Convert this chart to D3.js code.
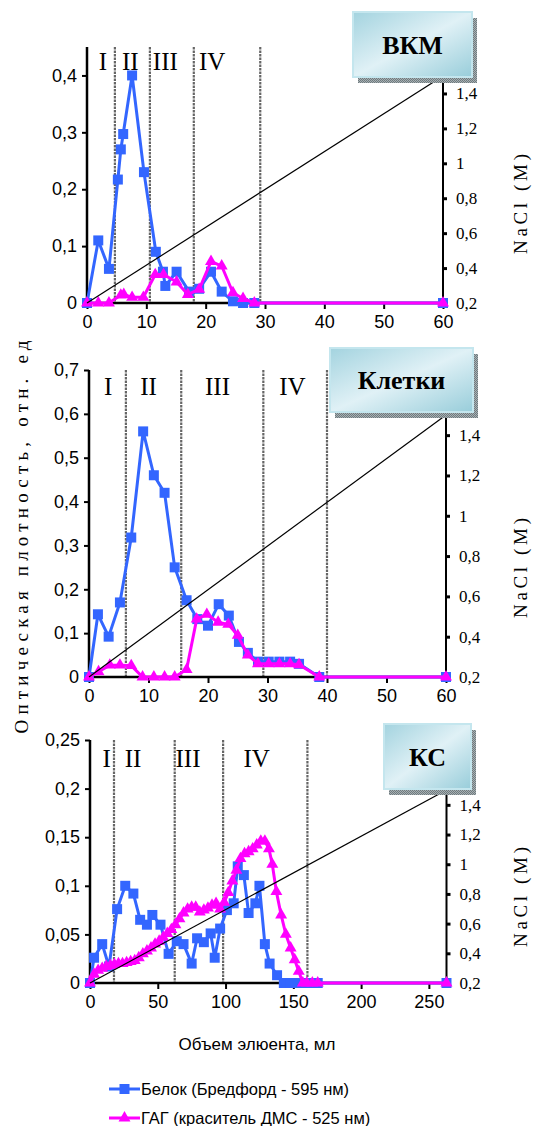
<!DOCTYPE html>
<html><head><meta charset="utf-8">
<script src="https://cdn.jsdelivr.net/npm/d3@7"></script>
<style>body{margin:0;background:#fff}svg{display:block}</style>
</head><body><svg id="c" width="533" height="1126"></svg>
<script>
// ---------- DATA ----------
const vkmProtein = [[0,0],[1.9,0.11],[3.7,0.06],[5.2,0.217],[5.7,0.27],[6.1,0.297],[7.6,0.4],[9.6,0.23],[11.6,0.09],[12.8,0.055],[13.2,0.03],[15.1,0.055],[17.2,0.02],[18.9,0.025],[20.9,0.055],[22.7,0.02],[24.6,0.003],[26.3,0],[28.2,0],[60,0]];
const vkmGag = [[0,0],[1.9,0],[3.7,0],[5.7,0.014],[6.2,0.015],[7.6,0.01],[9.5,0.01],[11.5,0.05],[12.9,0.05],[15.1,0.037],[17,0.015],[18.9,0.024],[20.9,0.073],[22.7,0.065],[24.6,0.018],[26.3,0.008],[28.2,0],[60,0]];

const cellsProtein = [[0,0],[1.5,0.143],[3.3,0.092],[5.2,0.17],[7.1,0.318],[9.1,0.56],[10.9,0.46],[12.7,0.42],[14.4,0.25],[16.4,0.175],[18.2,0.132],[20,0.117],[21.8,0.166],[23.5,0.14],[25.2,0.08],[26.7,0.055],[28.4,0.035],[30.2,0.035],[32,0.035],[33.8,0.035],[35.3,0.03],[38.7,0],[60,0]];
const cellsGag = [[0,0],[1.6,0.012],[3.5,0.027],[5.2,0.027],[7.1,0.026],[9,0],[10.9,0],[12.7,0],[14.4,0],[16.4,0.017],[18.1,0.132],[19.8,0.143],[21.7,0.125],[23.4,0.12],[25,0.095],[26.7,0.05],[28.4,0.03],[30.2,0.03],[32,0.03],[33.8,0.03],[35.3,0.028],[38.7,0],[60,0]];

const ksProtein = [[0,0],[3,0.026],[9,0.04],[14,0.017],[20,0.076],[26,0.1],[32,0.092],[37,0.065],[42,0.06],[46,0.07],[52,0.06],[58,0.03],[64,0.043],[69,0.04],[75,0.02],[79,0.046],[84,0.042],[89,0.051],[92,0.026],[96,0.056],[101,0.075],[106,0.082],[109,0.12],[113.5,0.111],[117,0.072],[122,0.082],[125,0.1],[129,0.04],[132.5,0.02],[138,0.008],[143,0],[148,0],[153,0],[158,0],[163,0],[168,0],[263,0]];
const ksGag = [[0,0],[3,0.009],[6,0.013],[9,0.015],[12,0.017],[15,0.018],[18,0.019],[21,0.02],[24,0.02],[27,0.021],[30,0.022],[33,0.023],[36,0.026],[39,0.03],[42,0.033],[45,0.036],[48,0.04],[51,0.043],[54,0.047],[57,0.051],[60,0.055],[63,0.06],[66,0.066],[69,0.072],[72,0.076],[75,0.078],[78,0.078],[81,0.073],[84,0.075],[87,0.077],[90,0.08],[93,0.082],[96,0.076],[99,0.083],[102,0.093],[105,0.105],[108,0.116],[111,0.128],[114,0.133],[117,0.135],[120,0.138],[123,0.142],[126,0.146],[129,0.146],[132,0.138],[134.5,0.122],[137.5,0.094],[141,0.07],[144.5,0.05],[148,0.036],[151,0.024],[154,0.012],[157,0],[160,0],[164,0],[168,0],[263,0]];

const vkmLeftTicks = [0,0.1,0.2,0.3,0.4];
const cellsLeftTicks = [0,0.1,0.2,0.3,0.4,0.5,0.6,0.7];
const ksLeftTicks = [0,0.05,0.1,0.15,0.2,0.25];
const naclTicks = [0.2,0.4,0.6,0.8,1,1.2,1.4];
const xTicks60 = [0,10,20,30,40,50,60];
const xTicks250 = [0,50,100,150,200,250];
const naclRange = [0.2,1.5];

const vkmBounds = [4.7,10.6,18,29.2];
const cellsBounds = [6.2,15.5,29.3,40];
const ksBounds = [17.7,62.5,98.2,160.4];
const fractionNames = ["I","II","III","IV"];
const vkmNamePos = [2.7,7.3,13.2,21.1];
const cellsNamePos = [3.2,10,21.6,34.2];
const ksNamePos = [12.3,31.7,72.3,123];

const panelTitles = ["ВКМ","Клетки","КС"];
const yTitle = "Оптическая плотность, отн. ед";
const xTitle = "Объем элюента, мл";
const naclTitle = "NaCl (M)";
const seriesNames = ["Белок (Бредфорд - 595 нм)","ГАГ (краситель ДМС - 525 нм)"];

// ---------- STYLE ----------
const BLUE = "#3366ff", MAG = "#ff00ff";
const svg = d3.select("#c");
const fmt = v => String(v).replace(".", ",");

const defs = svg.append("defs");
const g = defs.append("linearGradient").attr("id","boxg").attr("x1","0").attr("y1","0").attr("x2","1").attr("y2","1");
g.append("stop").attr("offset","0").attr("stop-color","#a3d3df");
g.append("stop").attr("offset","0.5").attr("stop-color","#e0f1f6");
g.append("stop").attr("offset","1").attr("stop-color","#98cdda");
const pat = defs.append("pattern").attr("id","shd").attr("width",2).attr("height",2).attr("patternUnits","userSpaceOnUse");
pat.append("rect").attr("width",2).attr("height",2).attr("fill","#a7b0b3");
pat.append("rect").attr("width",1).attr("height",1).attr("fill","#6f7a7e");
pat.append("rect").attr("x",1).attr("y",1).attr("width",1).attr("height",1).attr("fill","#6f7a7e");

const panels = [
  {protein: vkmProtein, gag: vkmGag, xmax:60, xTicks:xTicks60, yTicks:vkmLeftTicks, ymax:0.45,
   x0:87, x1:443, yBase:303, yTop:47, rTop:76, bounds:vkmBounds, namePos:vkmNamePos, nameY:70,
   title:panelTitles[0], box:[353,12,119,65], naclY:204},
  {protein: cellsProtein, gag: cellsGag, xmax:60, xTicks:xTicks60, yTicks:cellsLeftTicks, ymax:0.7,
   x0:89, x1:446, yBase:677, yTop:370, rTop:415, bounds:cellsBounds, namePos:cellsNamePos, nameY:395,
   title:panelTitles[1], box:[330,348,143,64], naclY:568},
  {protein: ksProtein, gag: ksGag, xmax:263, xTicks:xTicks250, yTicks:ksLeftTicks, ymax:0.25,
   x0:90, x1:446.5, yBase:983, yTop:740, rTop:790, bounds:ksBounds, namePos:ksNamePos, nameY:767,
   title:panelTitles[2], box:[384,724,87,65], naclY:897}
];

panels.forEach(p => {
  const x = d3.scaleLinear().domain([0,p.xmax]).range([p.x0,p.x1]);
  const y = d3.scaleLinear().domain([0,p.ymax]).range([p.yBase,p.yTop]);
  const yr = d3.scaleLinear().domain(naclRange).range([p.yBase,p.rTop]);
  const G = svg.append("g");

  // fraction boundaries
  G.selectAll("line.b").data(p.bounds).enter().append("line")
    .attr("x1",d=>x(d)).attr("x2",d=>x(d)).attr("y1",p.yTop).attr("y2",p.yBase)
    .attr("stroke","#666").attr("stroke-width",2.2).attr("stroke-dasharray","2.5,1");
  G.selectAll("text.n").data(fractionNames).enter().append("text")
    .attr("x",(d,i)=>x(p.namePos[i])).attr("y",p.nameY).attr("text-anchor","middle")
    .attr("font-family","Liberation Serif, Times New Roman, serif").attr("font-size",25).attr("fill","#000").text(d=>d);

  // left axis
  const la = G.append("g").attr("transform",`translate(${p.x0},0)`)
    .call(d3.axisLeft(y).tickValues(p.yTicks).tickFormat(fmt).tickSize(5).tickPadding(5));
  la.select(".domain").remove();
  la.append("line").attr("x1",0).attr("x2",0).attr("y1",p.yTop).attr("y2",p.yBase).attr("stroke","#000").attr("stroke-width",2.5);
  la.selectAll(".tick line").attr("stroke-width",2);
  la.selectAll("text").attr("font-family","Liberation Sans, Arial, sans-serif").attr("font-size",18).attr("fill","#000");

  // bottom axis
  const ba = G.append("g").attr("transform",`translate(0,${p.yBase})`)
    .call(d3.axisBottom(x).tickValues(p.xTicks).tickSize(6).tickPadding(6));
  ba.select(".domain").remove();
  ba.append("line").attr("x1",p.x0).attr("x2",p.x1).attr("y1",0).attr("y2",0).attr("stroke","#000").attr("stroke-width",2.5);
  ba.selectAll(".tick line").attr("stroke-width",2);
  ba.selectAll("text").attr("font-family","Liberation Sans, Arial, sans-serif").attr("font-size",18).attr("fill","#000");

  // right axis
  const ra = G.append("g").attr("transform",`translate(${p.x1},0)`)
    .call(d3.axisRight(yr).tickValues(naclTicks).tickFormat(fmt).tickSize(4).tickPadding(9));
  ra.select(".domain").remove();
  ra.append("line").attr("x1",0).attr("x2",0).attr("y1",p.rTop).attr("y2",p.yBase).attr("stroke","#000").attr("stroke-width",2);
  ra.selectAll(".tick line").attr("stroke-width",3);
  ra.selectAll("text").attr("font-family","Liberation Serif, Times New Roman, serif").attr("font-size",17).attr("fill","#000");

  // NaCl title
  G.append("text").attr("transform",`translate(527,${p.naclY}) rotate(-90)`).attr("text-anchor","middle")
    .attr("font-family","Liberation Serif, Times New Roman, serif").attr("font-size",19)
    .attr("textLength",100).attr("lengthAdjust","spacing").text(naclTitle);

  // series
  const line = d3.line().x(d=>x(d[0])).y(d=>y(d[1]));
  G.append("path").datum(p.protein).attr("d",line).attr("fill","none").attr("stroke",BLUE).attr("stroke-width",3).attr("stroke-linejoin","round");
  G.selectAll("rect.pm").data(p.protein).enter().append("rect")
    .attr("x",d=>x(d[0])-5).attr("y",d=>y(d[1])-5).attr("width",10).attr("height",10).attr("fill",BLUE);
  G.append("path").datum(p.gag).attr("d",line).attr("fill","none").attr("stroke",MAG).attr("stroke-width",3).attr("stroke-linejoin","round");
  const tri = d3.symbol().type(d3.symbolTriangle).size(62);
  G.selectAll("path.gm").data(p.gag).enter().append("path")
    .attr("transform",d=>`translate(${x(d[0])},${y(d[1])})`).attr("d",tri).attr("fill",MAG);

  // NaCl gradient line
  G.append("line").attr("x1",x(0)).attr("y1",yr(naclRange[0])).attr("x2",x(p.xmax)).attr("y2",yr(naclRange[1]))
    .attr("stroke","#000").attr("stroke-width",1.2);

  // title box
  const [bx,by,bw,bh] = p.box;
  G.append("rect").attr("x",bx+5).attr("y",by+6).attr("width",bw).attr("height",bh).attr("fill","url(#shd)");
  G.append("rect").attr("x",bx).attr("y",by).attr("width",bw).attr("height",bh).attr("fill","url(#boxg)")
    .attr("stroke","#c4e6ee").attr("stroke-width",2);
  G.append("text").attr("x",bx+bw/2).attr("y",by+bh/2+9).attr("text-anchor","middle")
    .attr("font-family","Liberation Serif, Times New Roman, serif").attr("font-weight","bold").attr("font-size",26)
    .text(p.title);
});

// Y title
svg.append("text").attr("transform","translate(28,537) rotate(-90)").attr("text-anchor","middle")
  .attr("font-family","Liberation Serif, Times New Roman, serif").attr("font-size",19)
  .attr("textLength",393).attr("lengthAdjust","spacing").text(yTitle);

// X title
svg.append("text").attr("x",257).attr("y",1050).attr("text-anchor","middle")
  .attr("font-family","Liberation Sans, Arial, sans-serif").attr("font-size",17).text(xTitle);

// legend
const leg = svg.append("g");
const legY = [1089,1118];
seriesNames.forEach((name,i) => {
  const c = i===0 ? BLUE : MAG;
  leg.append("line").attr("x1",109).attr("x2",140).attr("y1",legY[i]).attr("y2",legY[i]).attr("stroke",c).attr("stroke-width",3);
  if (i===0) leg.append("rect").attr("x",119.5).attr("y",legY[i]-5).attr("width",10).attr("height",10).attr("fill",c);
  else leg.append("path").attr("transform",`translate(124.5,${legY[i]})`).attr("d",d3.symbol().type(d3.symbolTriangle).size(62)).attr("fill",c);
  leg.append("text").attr("x",141).attr("y",legY[i]+6).attr("font-family","Liberation Sans, Arial, sans-serif").attr("font-size",16.5).text(name);
});
</script></body></html>
